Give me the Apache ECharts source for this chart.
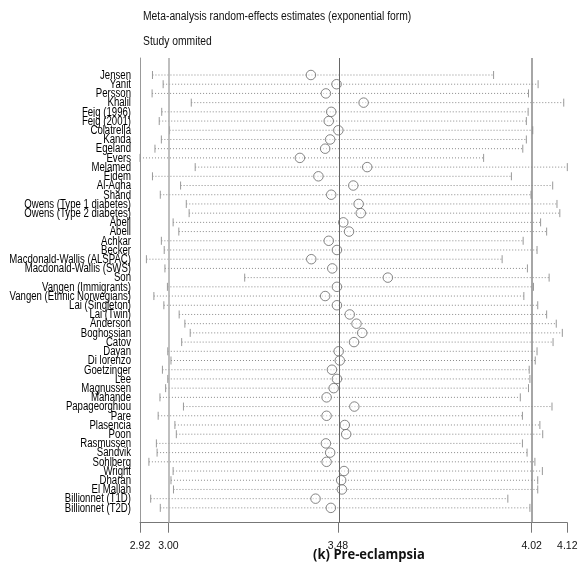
<!DOCTYPE html>
<html><head><meta charset="utf-8">
<script src="https://cdn.jsdelivr.net/npm/echarts@6/dist/echarts.min.js"></script>
<style>html,body{margin:0;padding:0;background:#fff}#c{width:581px;height:565px}</style>
</head><body><div id="c"></div>
<script>
const studies = ["Jensen","Yanit","Persson","Khalil","Feig (1996)","Feig (2001)","Colatrella","Kanda","Egeland","Evers","Melamed","Eidem","Al-Agha","Shand","Owens (Type 1 diabetes)","Owens (Type 2 diabetes)","Abell","Abell","Achkar","Becker","Macdonald-Wallis (ALSPAC)","Macdonald-Wallis (SWS)","Son","Vangen (Immigrants)","Vangen (Ethnic Norwegians)","Lai (Singleton)","Lai (Twin)","Anderson","Boghossian","Catov","Dayan","Di lorenzo","Goetzinger","Lee","Magnussen","Mahande","Papageorghiou","Pare","Plasencia","Poon","Rasmussen","Sandvik","Sohlberg","Wright","Dharan","El Mallah","Billionnet (T1D)","Billionnet (T2D)"];
const estimate = [3.400,3.472,3.442,3.548,3.457,3.450,3.477,3.454,3.440,3.369,3.558,3.421,3.519,3.457,3.534,3.540,3.491,3.507,3.450,3.473,3.401,3.460,3.616,3.473,3.440,3.473,3.509,3.528,3.544,3.521,3.478,3.481,3.459,3.473,3.464,3.444,3.522,3.444,3.495,3.499,3.442,3.454,3.444,3.493,3.485,3.487,3.413,3.456];
const lower = [2.955,2.985,2.954,3.064,2.981,2.974,3.003,2.980,2.962,2.920,3.075,2.955,3.034,2.977,3.050,3.058,3.013,3.029,2.980,2.988,2.938,2.990,3.214,2.997,2.959,2.987,3.030,3.046,3.061,3.037,2.998,3.007,2.983,2.998,2.992,2.976,3.042,2.971,3.018,3.022,2.966,2.968,2.945,3.013,3.007,3.014,2.950,2.977];
const upper = [3.913,4.038,4.011,4.110,4.010,4.005,4.023,4.005,3.995,3.885,4.120,3.963,4.079,4.018,4.091,4.099,4.045,4.062,3.996,4.035,3.937,4.008,4.069,4.025,3.998,4.037,4.062,4.089,4.106,4.080,4.035,4.030,4.013,4.015,4.011,3.988,4.077,3.994,4.043,4.051,3.994,4.007,4.029,4.050,4.037,4.037,3.953,4.015];
const xTicks = [2.92, 3.00, 3.476, 4.02, 4.12];
const overall = {lo: 3.00, est: 3.476, hi: 4.02};
const titleText = 'Meta-analysis random-effects estimates (exponential form)';
const subtitleText = 'Study ommited';
const xTitle = '(k) Pre-eclampsia';

const ciData = studies.map((s,i)=>[lower[i], upper[i], i+1]);
const estData = studies.map((s,i)=>[estimate[i], i+1]);
const labelData = studies.map((s,i)=>[2.92, i+1]);

const chart = echarts.init(document.getElementById('c'), null, {renderer:'canvas'});
chart.setOption({
  animation:false,
  graphic:[
    {type:'text', x:143, y:11, scaleX:0.86, style:{text:titleText, font:'12px "Liberation Sans", sans-serif', fill:'#111', textVerticalAlign:'top'}},
    {type:'text', x:143, y:36, scaleX:0.86, style:{text:subtitleText, font:'12px "Liberation Sans", sans-serif', fill:'#111', textVerticalAlign:'top'}},
    {type:'text', x:369, y:548, scaleX:0.93, style:{text:xTitle, font:'bold 14px "Open Sans", sans-serif', fill:'#111', textAlign:'center', textVerticalAlign:'top'}}
  ],
  grid:{left:140, right:13.7, top:58, bottom:42.3},
  xAxis:{type:'value', min:2.92, max:4.12, splitLine:{show:false},
    axisLine:{onZero:false, lineStyle:{color:'#777', width:1}},
    axisTick:{customValues:xTicks, length:10, lineStyle:{color:'#777'}},
    axisLabel:{customValues:xTicks, margin:18, formatter:v=>v.toFixed(2), fontFamily:'"Liberation Sans Narrow","Liberation Sans",sans-serif', fontSize:10.5, color:'#111'}
  },
  yAxis:{type:'value', inverse:true, min:-0.846, max:49.61, splitLine:{show:false},
    axisLine:{show:true, onZero:false, lineStyle:{color:'#999', width:1}},
    axisTick:{show:false}, axisLabel:{show:false}
  },
  series:[
    {type:'custom', data:labelData, clip:false, renderItem:(params, api)=>{
      const p = api.coord([api.value(0), api.value(1)]);
      return {type:'text', x:p[0]-9, y:p[1]+0.5, scaleX:0.8,
        style:{text:studies[params.dataIndex], font:'12px "Liberation Sans", sans-serif', fill:'#000', textAlign:'right', textVerticalAlign:'middle'}};
    }, z:4},
    {type:'custom', data:ciData, renderItem:(params, api)=>{
      const a = api.coord([api.value(0), api.value(2)]);
      const b = api.coord([api.value(1), api.value(2)]);
      const h = 4;
      return {type:'group', children:[
        {type:'line', shape:{x1:a[0], y1:a[1], x2:b[0], y2:b[1]}, style:{stroke:'#8a8a8a', lineWidth:1, lineDash:[1,2]}},
        {type:'line', shape:{x1:a[0], y1:a[1]-h, x2:a[0], y2:a[1]+h}, style:{stroke:'#999', lineWidth:1}},
        {type:'line', shape:{x1:b[0], y1:b[1]-h, x2:b[0], y2:b[1]+h}, style:{stroke:'#999', lineWidth:1}}
      ]};
    }, z:2},
    {type:'scatter', data:estData, symbol:'circle', symbolSize:9.5, itemStyle:{color:'rgba(255,255,255,0.6)', borderColor:'#666', borderWidth:1}, z:3,
     markLine:{silent:true, symbol:'none', label:{show:false},
       data:[{xAxis:overall.lo, lineStyle:{color:'#aaa', width:1.5, type:'solid'}},
             {xAxis:overall.est, lineStyle:{color:'#666', width:1, type:'solid'}},
             {xAxis:overall.hi, lineStyle:{color:'#888', width:1.5, type:'solid'}}]}
    }
  ]
});
</script></body></html>
